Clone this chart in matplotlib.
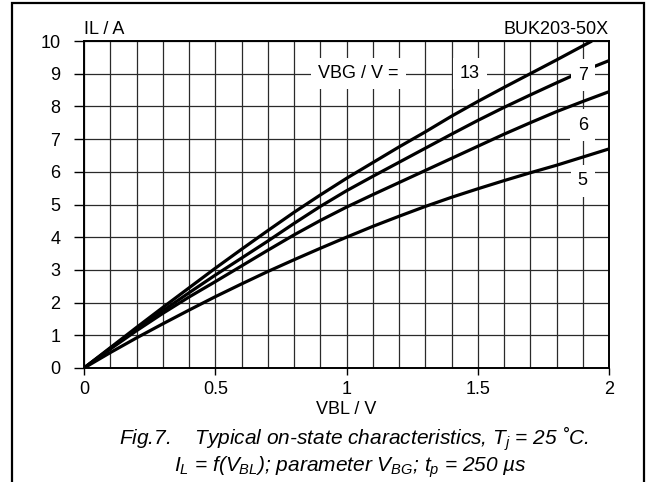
import matplotlib
matplotlib.use("Agg")
import matplotlib.pyplot as plt
from matplotlib.patches import Rectangle

plt.rcParams['font.family'] = ['Liberation Sans', 'DejaVu Sans']
plt.rcParams['mathtext.fontset'] = 'custom'
plt.rcParams['mathtext.it'] = 'Liberation Sans:italic'
plt.rcParams['mathtext.rm'] = 'Liberation Sans'

# on-state curves (VBL in V, IL in A)
vbl = [0, 0.1, 0.2, 0.3, 0.4, 0.5, 0.6, 0.7, 0.8, 0.9, 1.0,
       1.1, 1.2, 1.3, 1.4, 1.5, 1.6, 1.7, 1.8, 1.9, 2.0]
vbl_13 = vbl[:-2] + [1.9, 1.935]
il_13 = [0, 0.62, 1.24, 1.85, 2.45, 3.05, 3.63, 4.2, 4.76, 5.29, 5.8,
         6.28, 6.76, 7.22, 7.7, 8.15, 8.58, 9.0, 9.42, 9.85, 10.0]
il_7 = [0, 0.6, 1.18, 1.75, 2.3, 2.84, 3.36, 3.88, 4.42, 4.94, 5.42,
        5.86, 6.29, 6.72, 7.15, 7.57, 7.97, 8.35, 8.72, 9.08, 9.4]
il_6 = [0, 0.58, 1.14, 1.67, 2.17, 2.64, 3.12, 3.6, 4.07, 4.51, 4.92,
        5.3, 5.67, 6.04, 6.41, 6.78, 7.15, 7.5, 7.84, 8.15, 8.45]
il_5 = [0, 0.47, 0.92, 1.35, 1.77, 2.18, 2.57, 2.95, 3.31, 3.66, 4.0,
        4.33, 4.64, 4.94, 5.22, 5.48, 5.73, 5.97, 6.2, 6.45, 6.7]

# curve labels: (text, x, y)
curve_labels = [("VBG / V =", 1.044, 9.0), ("13", 1.47, 9.0), ("7", 1.9, 8.96),
                ("6", 1.9, 7.43), ("5", 1.9, 5.72)]

fig = plt.figure(figsize=(6.49, 4.82), dpi=100)
ax = fig.add_axes([84/649, 1-368/482, 525/649, 327/482])

for ys, xs in [(il_13, vbl_13), (il_7, vbl), (il_6, vbl), (il_5, vbl)]:
    ax.plot(xs, ys, color='black', lw=2.3, zorder=3, solid_capstyle='butt')

ax.set_xlim(0, 2)
ax.set_ylim(0, 10)
ax.set_xticks([0, 0.5, 1, 1.5, 2])
ax.set_xticklabels(['0', '0.5', '1', '1.5', '2'])
ax.set_xticks([i/10 for i in range(21)], minor=True)
ax.set_yticks(range(11))
ax.grid(which='both', color='#2a2a2a', lw=0.9, zorder=1)
ax.set_axisbelow(True)
ax.tick_params(axis='x', which='major', length=5, width=1, pad=4, labelsize=13)
ax.tick_params(axis='x', which='minor', length=0)
ax.tick_params(axis='y', length=7, width=1, pad=10, labelsize=13)
for sp in ax.spines.values():
    sp.set_linewidth(1.4)

for txt, x, y in curve_labels:
    ax.text(x, y, txt, fontsize=13, ha='center', va='center', zorder=5,
            bbox=dict(boxstyle='square,pad=0.4', fc='white', ec='none'))

fig.text(84/649, 1-30/482, "IL / A", fontsize=13, ha='left', va='center')
fig.text(609/649, 1-30/482, "BUK203-50X", fontsize=13, ha='right', va='center')
fig.text(346.5/649, 1-410/482, "VBL / V", fontsize=13, ha='center', va='center')

fig.text(354/649, 1-439/482,
         "Fig.7.    Typical on-state characteristics, $T_j$ = 25 \u02daC.",
         fontsize=15, style='italic', ha='center', va='center')
fig.text(350/649, 1-467/482,
         "$I_L$ = f($V_{BL}$); parameter $V_{BG}$; $t_p$ = 250 \u00b5s",
         fontsize=15, style='italic', ha='center', va='center')

fig.patches.append(Rectangle((12/649, -0.05), 632/649, 1.05 - 3/482,
                             transform=fig.transFigure, fill=False,
                             ec='black', lw=1.6))

fig.savefig('out.png', dpi=100)
